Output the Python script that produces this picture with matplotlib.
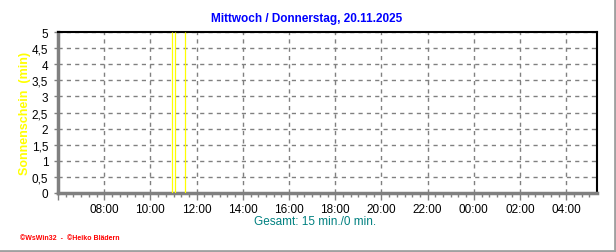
import numpy as np
import matplotlib.pyplot as plt
from matplotlib.ticker import MultipleLocator, FuncFormatter
from matplotlib.lines import Line2D

plt.rcParams['font.family'] = ['Liberation Sans', 'DejaVu Sans']

# sunshine readings (hour of day, minutes of sun)
sun_hours = [10.95, 11.07, 11.5]
sun_minutes = [5, 5, 5]

title = "Mittwoch / Donnerstag, 20.11.2025"
total_text = "Gesamt: 15 min./0 min."
footer = "\u00a9WsWin32  -  \u00a9Heiko Bl\u00e4dern"

fig = plt.figure(figsize=(6.16, 2.53), dpi=100)
ax = fig.add_axes([58 / 616, 1 - 194 / 253, (597 - 58) / 616, (194 - 33) / 253])

ax.vlines(sun_hours, 0, sun_minutes, color='#ffff00', lw=0.9, zorder=3)

ax.set_xlim(6, 29.33)
ax.set_ylim(0, 5)

ax.xaxis.set_major_locator(MultipleLocator(2))
ax.xaxis.set_minor_locator(MultipleLocator(1 / 3))
ax.yaxis.set_major_locator(MultipleLocator(0.5))


def hour_fmt(v, pos):
    h = int(round(v)) % 24
    if round(v) == 6:
        return ''
    return '%02d:00' % h


def comma_fmt(v, pos):
    s = ('%g' % v).replace('.', ',')
    return s


ax.xaxis.set_major_formatter(FuncFormatter(hour_fmt))
ax.yaxis.set_major_formatter(FuncFormatter(comma_fmt))

ax.grid(True, which='major', color='#808080', linestyle=(0, (3, 3)), lw=1)
ax.set_axisbelow(True)

ax.tick_params(axis='x', which='major', length=5, width=1, color='#808080',
               labelsize=8.5, pad=2)
ax.tick_params(axis='x', which='minor', length=3, width=1, color='#808080')
ax.tick_params(axis='y', which='major', length=3, width=1, color='#808080',
               labelsize=8.5, pad=4)

for side in ['top', 'right']:
    ax.spines[side].set_color('black')
    ax.spines[side].set_linewidth(1.5)
for side in ['left', 'bottom']:
    ax.spines[side].set_color('#808080')
    ax.spines[side].set_linewidth(2.5)

ax.set_ylabel("Sonnenschein  (min)", color='#ffff00', fontweight='bold',
              fontsize=9, va='center')
ax.yaxis.set_label_coords(-33 / 539, 0.5)

fig.text(307 / 616, 1 - 19 / 253, title, color='#0000ff', fontweight='bold',
         fontsize=8.5, ha='center', va='center')
fig.text(315 / 616, 1 - 222 / 253, total_text, color='#008080',
         fontsize=8.5, ha='center', va='center')
fig.text(20 / 616, 1 - 239 / 253, footer, color='#ff0000', fontweight='bold',
         fontsize=5, ha='left', va='center')

# panel edge on right and bottom
fig.add_artist(Line2D([0, 1], [1 / 253, 1 / 253], color='#a0a0a0', lw=2,
                      transform=fig.transFigure))
fig.add_artist(Line2D([1 - 1 / 616, 1 - 1 / 616], [0, 1], color='#a0a0a0', lw=2,
                      transform=fig.transFigure))

fig.savefig('out.png', dpi=100)
